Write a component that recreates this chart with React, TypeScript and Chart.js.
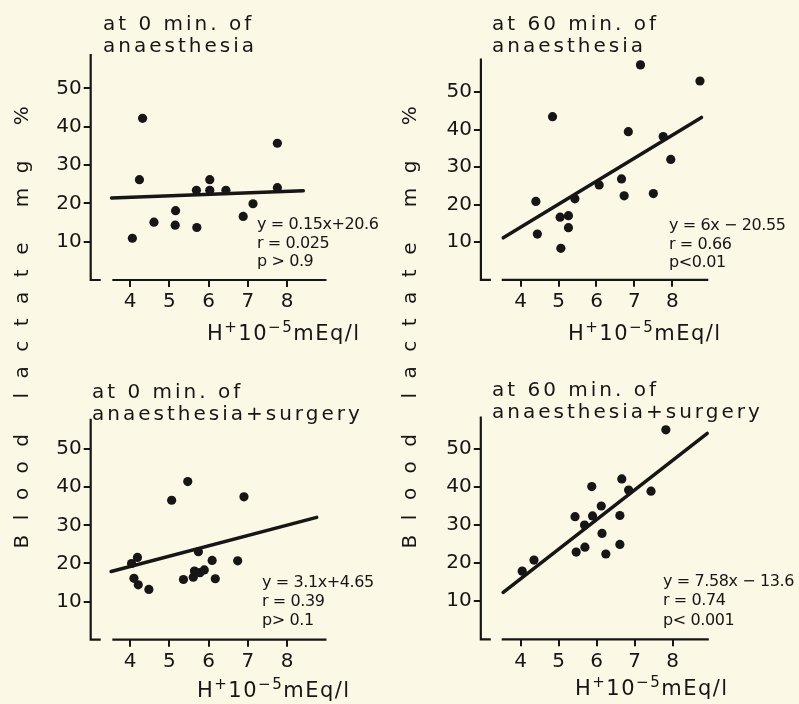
import React, { useEffect, useRef } from 'react';
import { Chart, registerables } from 'chart.js';

Chart.register(...registerables);

const FONT = "'DejaVu Sans', 'Liberation Sans', sans-serif";
const INK = '#161616';
const BG = '#fbf8e6';

// shared ticks
const xTickValues = [4, 5, 6, 7, 8];
const yTickValues = [10, 20, 30, 40, 50];
const yAxisLabel = 'Blood lactate mg %';

// Panel 1: at 0 min. of anaesthesia
const p1Title = ['at 0 min. of', 'anaesthesia'];
const p1H = [4.32, 4.24, 4.06, 4.61, 5.16, 5.15, 5.69, 5.70, 6.03, 6.03, 6.44, 6.88, 7.13, 7.75, 7.75];
const p1Lactate = [42.2, 26.2, 10.9, 15.1, 18.1, 14.3, 23.4, 13.7, 26.2, 23.4, 23.4, 16.6, 19.9, 35.7, 24.1];
const p1FitH = [3.53, 8.41];
const p1FitLactate = [21.4, 23.3];
const p1Stats = ['y = 0.15x+20.6', 'r = 0.025', 'p > 0.9'];

// Panel 2: at 60 min. of anaesthesia
const p2Title = ['at 60 min. of', 'anaesthesia'];
const p2H = [7.16, 8.73, 4.84, 6.84, 7.76, 7.96, 6.66, 6.07, 6.73, 7.50, 4.40, 5.43, 5.04, 5.26, 5.26, 4.44, 5.06];
const p2Lactate = [57.3, 53.0, 43.5, 39.5, 38.2, 32.1, 26.9, 25.3, 22.4, 23.0, 20.9, 21.6, 16.7, 17.1, 13.9, 12.2, 8.4];
const p2FitH = [3.54, 8.77];
const p2FitLactate = [11.2, 43.3];
const p2Stats = ['y = 6x \u2212 20.55', 'r = 0.66', 'p<0.01'];

// Panel 3: at 0 min. of anaesthesia+surgery
const p3Title = ['at 0 min. of', 'anaesthesia+surgery'];
const p3H = [5.47, 5.06, 6.90, 4.19, 4.04, 5.74, 6.09, 6.74, 4.10, 4.21, 4.48, 5.36, 5.61, 5.64, 5.78, 5.89, 6.17];
const p3Lactate = [41.5, 36.6, 37.5, 21.6, 20.0, 23.1, 20.8, 20.7, 16.1, 14.4, 13.2, 15.8, 16.4, 18.0, 17.6, 18.3, 16.0];
const p3FitH = [3.52, 8.75];
const p3FitLactate = [17.9, 32.1];
const p3Stats = ['y = 3.1x+4.65', 'r = 0.39', 'p> 0.1'];

// Panel 4: at 60 min. of anaesthesia+surgery
const p4Title = ['at 60 min. of', 'anaesthesia+surgery'];
const p4H = [7.82, 5.87, 6.66, 6.84, 7.43, 6.12, 5.43, 5.89, 6.61, 5.68, 6.14, 5.46, 5.69, 6.24, 6.61, 4.35, 4.04];
const p4Lactate = [55.0, 40.1, 42.1, 39.2, 38.9, 35.0, 32.2, 32.4, 32.5, 30.0, 27.8, 22.9, 24.2, 22.4, 24.9, 20.8, 17.9];
const p4FitH = [3.54, 8.91];
const p4FitLactate = [12.3, 54.1];
const p4Stats = ['y = 7.58x \u2212 13.6', 'r = 0.74', 'p< 0.001'];

type Layout = {
  canvas: [number, number, number, number]; // left, top, width, height (page)
  area: [number, number, number, number]; // left, top, right, bottom (page)
  xMin: number; xMax: number; yMax: number;
  titleX: number; titleY: [number, number];
  statsX: number; statsY: [number, number, number];
  xTitleX: number; xTitleY: number;
};

const layouts: Layout[] = [
  { canvas: [0, 0, 400, 352], area: [90.7, 54, 326.5, 280], xMin: 3, xMax: 9, yMax: 59,
    titleX: 103, titleY: [30, 52], statsX: 257, statsY: [229, 247.5, 266], xTitleX: 207, xTitleY: 340 },
  { canvas: [400, 0, 399, 352], area: [480.9, 58.5, 708.3, 279.8], xMin: 2.95, xMax: 8.95, yMax: 59,
    titleX: 492, titleY: [30, 52], statsX: 669, statsY: [230, 248.5, 267], xTitleX: 568, xTitleY: 340 },
  { canvas: [0, 352, 400, 352], area: [90.7, 418.7, 326.5, 639.7], xMin: 3, xMax: 9, yMax: 58,
    titleX: 92, titleY: [398, 420], statsX: 262, statsY: [587, 606, 625], xTitleX: 197, xTitleY: 697 },
  { canvas: [400, 352, 399, 352], area: [480.8, 416.5, 708.8, 639.3], xMin: 2.95, xMax: 8.95, yMax: 58.5,
    titleX: 492, titleY: [396, 418], statsX: 663, statsY: [586, 605, 625], xTitleX: 575, xTitleY: 695 },
];

type PanelData = { title: string[]; h: number[]; lac: number[]; fitH: number[]; fitLac: number[]; stats: string[] };
const panels: PanelData[] = [
  { title: p1Title, h: p1H, lac: p1Lactate, fitH: p1FitH, fitLac: p1FitLactate, stats: p1Stats },
  { title: p2Title, h: p2H, lac: p2Lactate, fitH: p2FitH, fitLac: p2FitLactate, stats: p2Stats },
  { title: p3Title, h: p3H, lac: p3Lactate, fitH: p3FitH, fitLac: p3FitLactate, stats: p3Stats },
  { title: p4Title, h: p4H, lac: p4Lactate, fitH: p4FitH, fitLac: p4FitLactate, stats: p4Stats },
];

function Panel({ data, lay }: { data: PanelData; lay: Layout }) {
  const ref = useRef<HTMLCanvasElement | null>(null);
  useEffect(() => {
    if (!ref.current) return;
    const [cl, ct, cw, ch] = lay.canvas;
    const [al, at, ar, ab] = lay.area;
    const ox = cl, oy = ct;

    const decor = {
      id: 'decor',
      afterDraw(chart: any) {
        const ctx = chart.ctx as CanvasRenderingContext2D;
        const { left, right, top, bottom } = chart.chartArea;
        const xs = chart.scales.x;
        ctx.save();
        // axes
        ctx.strokeStyle = INK;
        ctx.lineWidth = 2.2;
        ctx.beginPath();
        ctx.moveTo(left, top);
        ctx.lineTo(left, bottom);
        ctx.lineTo(left + 10, bottom);
        ctx.moveTo(xs.getPixelForValue(lay.xMin + 0.55), bottom);
        ctx.lineTo(right, bottom);
        ctx.stroke();
        ctx.fillStyle = INK;
        ctx.textAlign = 'left';
        ctx.textBaseline = 'alphabetic';
        // title
        ctx.font = `20px ${FONT}`;
        (ctx as any).letterSpacing = '3px';
        data.title.forEach((t, i) => ctx.fillText(t, lay.titleX - ox, lay.titleY[i] - oy));
        // stats
        ctx.font = `16px ${FONT}`;
        (ctx as any).letterSpacing = '-0.4px';
        data.stats.forEach((t, i) => ctx.fillText(t, lay.statsX - ox, lay.statsY[i] - oy));
        // x title: H+ 10-5 mEq/l
        (ctx as any).letterSpacing = '1.5px';
        let x = lay.xTitleX - ox;
        const y = lay.xTitleY - oy;
        const seg = (t: string, size: number, rise: number) => {
          ctx.font = `${size}px ${FONT}`;
          ctx.fillText(t, x, y - rise);
          x += ctx.measureText(t).width;
        };
        seg('H', 21, 0);
        seg('+', 15, 8);
        seg('10', 21, 0);
        seg('\u22125', 15, 8);
        seg('mEq/l', 21, 0);
        ctx.restore();
      },
    };

    const chart = new Chart(ref.current, {
      type: 'scatter',
      data: {
        datasets: [
          {
            data: data.h.map((v, i) => ({ x: v, y: data.lac[i] })),
            pointRadius: 4.6,
            pointBackgroundColor: INK,
            pointBorderWidth: 0,
            showLine: false,
          },
          {
            data: data.fitH.map((v, i) => ({ x: v, y: data.fitLac[i] })),
            showLine: true,
            borderColor: INK,
            borderWidth: 3.5,
            pointRadius: 0,
            borderCapStyle: 'round',
          } as any,
        ],
      },
      options: {
        responsive: false,
        animation: false,
        devicePixelRatio: 1,
        layout: { padding: { top: at - ct, right: cl + cw - ar, left: 0, bottom: 0 } },
        plugins: { legend: { display: false }, tooltip: { enabled: false }, title: { display: false } },
        scales: {
          x: {
            type: 'linear',
            min: lay.xMin,
            max: lay.xMax,
            afterBuildTicks: (s: any) => { s.ticks = xTickValues.map((v) => ({ value: v })); },
            afterFit: (s: any) => { s.height = ch - (ab - ct); },
            border: { display: false },
            grid: { drawOnChartArea: false, drawTicks: true, tickLength: 7, color: INK, lineWidth: 2 },
            ticks: { color: INK, font: { family: FONT, size: 20 }, padding: 3, maxRotation: 0 },
          },
          y: {
            type: 'linear',
            min: 0,
            max: lay.yMax,
            afterBuildTicks: (s: any) => { s.ticks = yTickValues.map((v) => ({ value: v })); },
            afterFit: (s: any) => { s.width = al - cl; },
            border: { display: false },
            grid: { drawOnChartArea: false, drawTicks: true, tickLength: 7, color: INK, lineWidth: 2 },
            ticks: { color: INK, font: { family: FONT, size: 20 }, padding: 2 },
          },
        },
      },
      plugins: [decor],
    });
    return () => chart.destroy();
  }, [data, lay]);

  const [cl, ct, cw, ch] = lay.canvas;
  return (
    <canvas
      ref={ref}
      width={cw}
      height={ch}
      style={{ position: 'absolute', left: cl, top: ct, width: cw, height: ch }}
    />
  );
}

function YLabel({ cx, cy }: { cx: number; cy: number }) {
  const W = 480, H = 26;
  return (
    <div
      style={{
        position: 'absolute',
        left: cx - W / 2,
        top: cy - H / 2,
        width: W,
        height: H,
        lineHeight: `${H}px`,
        textAlign: 'center',
        transform: 'rotate(-90deg)',
        fontFamily: FONT,
        fontSize: 20,
        color: INK,
        letterSpacing: '14.5px',
        wordSpacing: '0px',
        whiteSpace: 'nowrap',
        zIndex: 2,
      }}
    >
      {yAxisLabel}
    </div>
  );
}

export default function App() {
  useEffect(() => {
    document.body.style.background = BG;
    document.body.style.margin = '0';
  }, []);
  return (
    <div style={{ position: 'absolute', left: 0, top: 0, width: 799, height: 704, background: BG, overflow: 'hidden' }}>
      {panels.map((p, i) => (
        <Panel key={i} data={p} lay={layouts[i]} />
      ))}
      <YLabel cx={21} cy={320} />
      <YLabel cx={409} cy={320} />
    </div>
  );
}
